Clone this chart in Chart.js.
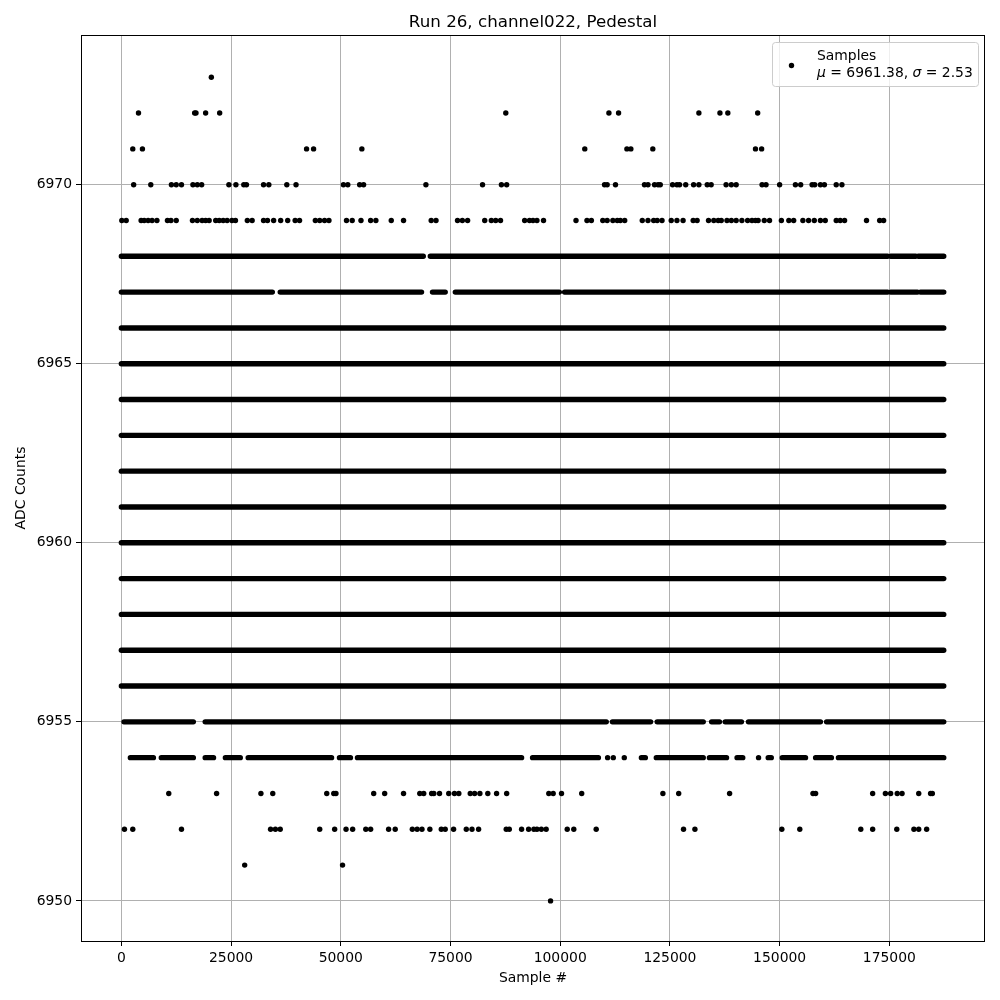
<!DOCTYPE html>
<html>
<head>
<meta charset="utf-8">
<script src="https://cdn.jsdelivr.net/npm/chart.js@4/dist/chart.umd.min.js"></script>
<style>
  html, body { margin: 0; padding: 0; background: #fff; }
  #wrap { width: 1000px; height: 1000px; }
</style>
</head>
<body>
<div id="wrap"><canvas id="chart" width="1000" height="1000"></canvas></div>
<script>
// tick labels
const xTicks = [0, 25000, 50000, 75000, 100000, 125000, 150000, 175000];
const yTicks = [6950, 6955, 6960, 6965, 6970];

// rows that are filled end to end
const lastSample = 187400;
const denseLevels = [6956, 6957, 6958, 6959, 6960, 6961, 6962, 6963, 6964, 6965, 6966];

// rows with gaps: [first, last] sample of each filled run
const seg6968 = [[0, 68800], [70400, 174600], [175300, 181000], [181600, 187400]];
const seg6967 = [[0, 34400], [36200, 68400], [70900, 73800], [76100, 99800], [101000, 174600], [175300, 181400], [182100, 187400]];
const seg6955 = [[600, 16400], [19100, 110500], [111900, 120600], [122100, 132600], [134500, 136300], [137600, 141300], [142900, 159300], [160700, 187400]];
const seg6954 = [[2050, 7300], [9100, 16400], [19100, 21000], [23700, 27100], [28900, 47900], [49700, 52200], [53800, 91200], [93700, 108700], [118500, 119400], [121900, 132600], [134000, 137900], [140300, 141600], [147400, 148100], [150600, 155900], [158200, 161800], [163400, 187400]];

// single samples
const pts6973 = [20500];
const pts6972 = [3900, 16700, 17000, 19200, 22400, 87600, 111100, 113300, 131600, 136400, 138200, 145000];
const pts6971 = [2600, 4800, 42200, 43800, 54800, 105600, 115200, 116100, 121100, 144500, 145900];
const pts6970 = [2800, 6700, 11400, 12500, 13700, 16300, 17300, 18300, 24500, 26100, 27900, 28500, 32400, 33600, 37700, 39800,
  50600, 51600, 54300, 55200, 69400, 82300, 86600, 87800, 110100, 110700, 112600, 119200, 120000, 121500, 122300, 122800,
  125600, 126600, 127200, 128600, 130400, 131600, 133500, 134400, 137800, 139000, 140100, 146000, 146900, 150000, 153600,
  154800, 157400, 158000, 159300, 160200, 162900, 164200];
const pts6969 = [100, 1100, 4500, 5200, 6100, 7000, 8100, 10500, 11300, 12500, 16200, 17300, 18400, 19200, 20000, 21500, 22300,
  23200, 24100, 25200, 26000, 28700, 29800, 32400, 33300, 34700, 36300, 37900, 39600, 40600, 44200, 45200, 46300, 47300,
  51300, 52600, 54600, 56800, 58000, 61500, 64300, 70600, 71700, 76600, 77700, 78900, 82800, 84300, 85300, 86400, 91900,
  93000, 93800, 94700, 96200, 103600, 106100, 107100, 109700, 110700, 112000, 113000, 113700, 114700, 118700, 120000,
  121300, 122100, 123200, 125300, 126600, 128000, 130300, 131200, 133800, 135000, 136000, 136700, 138000, 139000, 140100,
  141400, 142700, 143700, 144500, 145100, 146500, 147700, 150400, 152100, 153200, 155300, 156600, 157900, 159300, 160400,
  162900, 163800, 164800, 169800, 172800, 173700];
const pts6954 = [110800, 112100, 114600, 145200];
const pts6953 = [10800, 21700, 31800, 34500, 46800, 48400, 48900, 57500, 60000, 64300, 68000, 68900, 70700, 71200, 72500,
  74600, 75900, 76900, 79500, 80500, 81700, 83500, 85500, 87800, 97400, 98400, 100300, 104900, 123400, 127000, 138600,
  157600, 158200, 171200, 174100, 175300, 176800, 177900, 181700, 184400, 184800];
const pts6952 = [700, 2600, 13700, 34000, 35100, 36200, 45200, 48600, 51200, 52700, 55700, 56800, 60900, 62400, 66300, 67400,
  68500, 70300, 72900, 73800, 75700, 78600, 79900, 81400, 87700, 88400, 91200, 92800, 94000, 94700, 95700, 96800, 101600,
  103100, 108200, 128100, 130700, 150500, 154600, 168500, 171200, 176700, 180600, 181700, 183500];
const pts6951 = [28100, 50400];
const pts6950 = [97800];

const FONT = '"DejaVu Sans", sans-serif';

function rowLine(level, segs) {
    const data = [];
    segs.forEach(([a, b]) => {
        data.push({ x: a, y: level }, { x: b, y: level }, { x: b, y: null });
    });
    return {
        data: data,
        showLine: true,
        spanGaps: false,
        borderColor: '#000',
        borderWidth: 5.4,
        borderCapStyle: 'round',
        pointRadius: 0,
        pointHoverRadius: 0
    };
}

function toPoints(level, xs) {
    return xs.map(x => ({ x: x, y: level }));
}

const datasets = [];
denseLevels.forEach(lv => datasets.push(rowLine(lv, [[0, lastSample]])));
datasets.push(rowLine(6968, seg6968));
datasets.push(rowLine(6967, seg6967));
datasets.push(rowLine(6955, seg6955));
datasets.push(rowLine(6954, seg6954));
datasets.push({
    data: [].concat(
        toPoints(6973, pts6973), toPoints(6972, pts6972), toPoints(6971, pts6971),
        toPoints(6970, pts6970), toPoints(6969, pts6969), toPoints(6954, pts6954),
        toPoints(6953, pts6953), toPoints(6952, pts6952), toPoints(6951, pts6951),
        toPoints(6950, pts6950)),
    showLine: false,
    pointRadius: 2.7,
    pointBorderWidth: 0,
    pointBackgroundColor: '#000',
    pointHoverRadius: 2.7
});

// frame, titles and legend like matplotlib
const decorations = {
    id: 'decorations',
    afterDraw(chart) {
        const ctx = chart.ctx;
        const a = chart.chartArea;
        ctx.save();
        ctx.strokeStyle = '#000';
        ctx.lineWidth = 1;
        ctx.strokeRect(a.left + 0.5, a.top + 0.5, a.right - a.left - 1, a.bottom - a.top);

        ctx.fillStyle = '#000';
        ctx.textAlign = 'center';
        ctx.textBaseline = 'alphabetic';
        ctx.font = '16.7px ' + FONT;
        ctx.fillText('Run 26, channel022, Pedestal', (a.left + a.right) / 2, 27);

        ctx.font = '13.9px ' + FONT;
        ctx.fillText('Sample #', (a.left + a.right) / 2, 982);
        ctx.save();
        ctx.translate(25, (a.top + a.bottom) / 2);
        ctx.rotate(-Math.PI / 2);
        ctx.fillText('ADC Counts', 0, 0);
        ctx.restore();

        // legend
        const lx = 772.5, ly = 42.5, lw = 206, lh = 44;
        ctx.beginPath();
        ctx.roundRect(lx, ly, lw, lh, 3);
        ctx.fillStyle = 'rgba(255,255,255,0.8)';
        ctx.fill();
        ctx.strokeStyle = '#cccccc';
        ctx.stroke();

        ctx.fillStyle = '#000';
        ctx.beginPath();
        ctx.arc(791.5, 65.5, 2.7, 0, Math.PI * 2);
        ctx.fill();

        ctx.textAlign = 'left';
        ctx.font = '13.9px ' + FONT;
        ctx.fillText('Samples', 817, 60);
        const parts = [['μ', true], [' = 6961.38, ', false], ['σ', true], [' = 2.53', false]];
        let tx = 817;
        parts.forEach(([t, it]) => {
            ctx.font = (it ? 'italic ' : '') + '13.9px ' + FONT;
            ctx.fillText(t, tx, 77);
            tx += ctx.measureText(t).width;
        });
        ctx.restore();
    }
};

new Chart(document.getElementById('chart'), {
    type: 'scatter',
    data: { datasets: datasets },
    options: {
        responsive: false,
        animation: false,
        events: [],
        layout: { padding: { top: 35, right: 15, left: 0, bottom: 0 } },
        plugins: {
            legend: { display: false },
            tooltip: { enabled: false },
            title: { display: false }
        },
        scales: {
            x: {
                type: 'linear',
                min: -9200,
                max: 196800,
                afterBuildTicks: s => { s.ticks = xTicks.map(v => ({ value: v })); },
                afterFit: s => { s.height = 59; },
                border: { display: false },
                grid: { color: '#b0b0b0', lineWidth: 1, tickColor: '#000', tickLength: 5, drawTicks: true },
                ticks: {
                    color: '#000',
                    font: { family: FONT, size: 13.9 },
                    padding: 4,
                    maxRotation: 0,
                    autoSkip: false,
                    callback: v => String(v)
                }
            },
            y: {
                type: 'linear',
                min: 6948.88,
                max: 6974.18,
                afterBuildTicks: s => { s.ticks = yTicks.map(v => ({ value: v })); },
                afterFit: s => { s.width = 81; },
                border: { display: false },
                grid: { color: '#b0b0b0', lineWidth: 1, tickColor: '#000', tickLength: 5, drawTicks: true },
                ticks: {
                    color: '#000',
                    font: { family: FONT, size: 13.9 },
                    padding: 4,
                    autoSkip: false,
                    callback: v => String(v)
                }
            }
        }
    },
    plugins: [decorations]
});
</script>
</body>
</html>
